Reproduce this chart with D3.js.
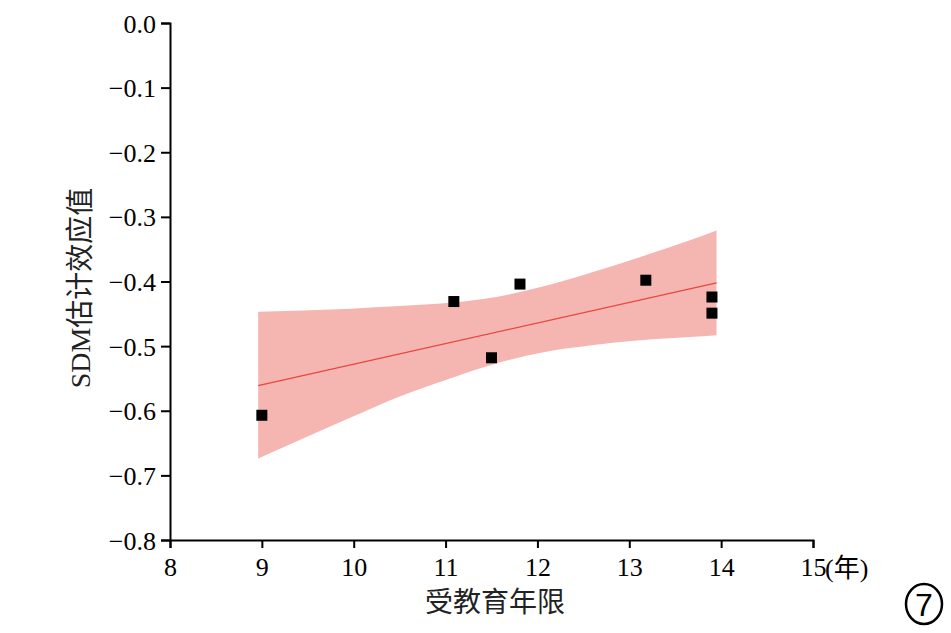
<!DOCTYPE html>
<html>
<head>
<meta charset="utf-8">
<script src="https://d3js.org/d3.v7.min.js"></script>
<style>
  body { margin: 0; background: #fff; }
  text { font-family: "Liberation Serif", "Noto Sans CJK SC", serif; }
</style>
</head>
<body>
<script>
// data
var years   = [9.0, 11.09, 11.50, 11.81, 13.18, 13.90, 13.90];
var effects = [-0.607, -0.431, -0.518, -0.404, -0.398, -0.424, -0.449];

// fitted line, ends
var fitX = [8.96, 13.95];
var fitY = [-0.561, -0.402];

// confidence band
var bandX     = [8.96, 9.96, 10.50, 11.05, 11.55, 12.08, 12.57, 13.12, 13.66, 13.95];
var bandUpper = [-0.447, -0.442, -0.438, -0.433, -0.424, -0.407, -0.387, -0.362, -0.336, -0.321];
var bandLower = [-0.674, -0.611, -0.578, -0.550, -0.527, -0.509, -0.499, -0.491, -0.486, -0.483];

var xTicks = [8, 9, 10, 11, 12, 13, 14, 15];
var yTicks = [0, -0.1, -0.2, -0.3, -0.4, -0.5, -0.6, -0.7, -0.8];

var margin = {top: 23, left: 170};

var x = d3.scaleLinear().domain([8, 15]).range([0, 643]);
var y = d3.scaleLinear().domain([-0.8, 0]).range([517, 0]);

var svg = d3.select("body").append("svg")
    .attr("width", 951)
    .attr("height", 633)
  .append("g")
    .attr("transform", "translate(" + margin.left + "," + margin.top + ")");

// band
var band = bandX.map(function(d, i) { return {x: d, lo: bandLower[i], hi: bandUpper[i]}; });
svg.append("path")
    .datum(band)
    .attr("fill", "#f5b6b2")
    .attr("d", d3.area()
      .curve(d3.curveMonotoneX)
      .x(function(d) { return x(d.x); })
      .y0(function(d) { return y(d.lo); })
      .y1(function(d) { return y(d.hi); }));

// fit line
svg.append("line")
    .attr("x1", x(fitX[0])).attr("y1", y(fitY[0]))
    .attr("x2", x(fitX[1])).attr("y2", y(fitY[1]))
    .attr("stroke", "#e8473c")
    .attr("stroke-width", 1.3);

// points
svg.selectAll("rect.pt")
    .data(years)
  .enter().append("rect")
    .attr("class", "pt")
    .attr("x", function(d) { return x(d) - 5.5; })
    .attr("y", function(d, i) { return y(effects[i]) - 5.5; })
    .attr("width", 11)
    .attr("height", 11)
    .attr("fill", "#000");

// x axis
var xAxis = svg.append("g")
    .attr("transform", "translate(0," + 517 + ")")
    .call(d3.axisBottom(x).tickValues(xTicks).tickSize(8).tickPadding(10).tickFormat(d3.format("d")));

// y axis
var yAxis = svg.append("g")
    .call(d3.axisLeft(y).tickValues(yTicks).tickSize(9).tickPadding(5).tickFormat(d3.format(".1f")));

[xAxis, yAxis].forEach(function(ax) {
  ax.attr("font-size", null).attr("font-family", null);
  ax.select(".domain").attr("stroke-width", 2).attr("stroke", "#000");
  ax.selectAll(".tick line").attr("stroke-width", 2).attr("stroke", "#000");
  ax.selectAll(".tick text")
    .style("font-size", "26px")
    .style("font-family", "Liberation Serif")
    .attr("fill", "#000");
});
yAxis.selectAll(".tick text").attr("dy", "0.35em");

svg.append("text")
    .attr("x", x(15) + 12)
    .attr("y", 554)
    .style("font-size", "26px")
    .text("(年)");

svg.append("text")
    .attr("x", 325)
    .attr("y", 589)
    .attr("text-anchor", "middle")
    .style("font-size", "28px")
    .attr("fill", "#222")
    .text("受教育年限");

svg.append("text")
    .attr("transform", "translate(-90," + 265 + ") rotate(-90)")
    .attr("text-anchor", "middle")
    .attr("dy", "0.35em")
    .style("font-size", "28px")
    .attr("fill", "#222")
    .text("SDM估计效应值");

// panel label
var lab = svg.append("g").attr("transform", "translate(" + 754 + "," + 581 + ")");
lab.append("ellipse").attr("rx", 18).attr("ry", 20)
    .attr("fill", "none").attr("stroke", "#000").attr("stroke-width", 2.5);
lab.append("text")
    .attr("text-anchor", "middle")
    .attr("dy", "0.36em")
    .style("font-size", "32px")
    .style("font-family", "Liberation Sans")
    .text("7");
</script>
</body>
</html>
